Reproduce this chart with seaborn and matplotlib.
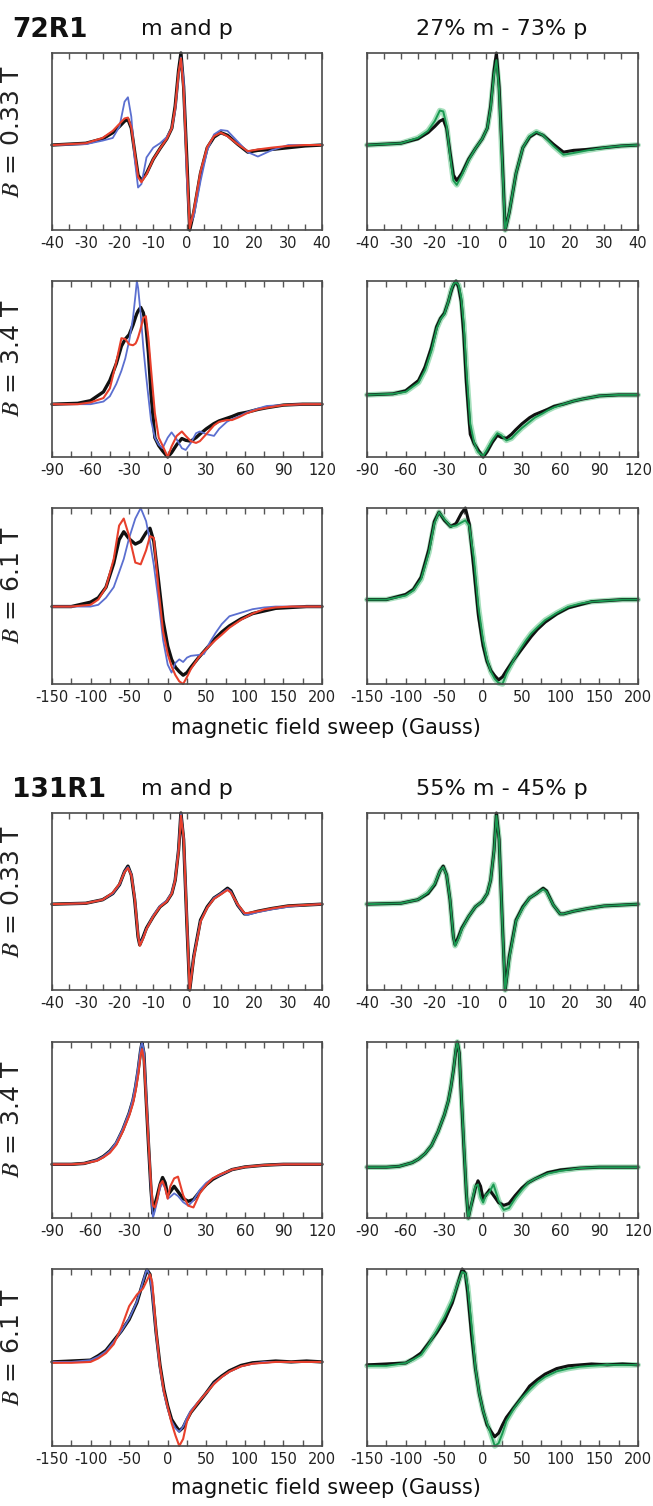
import matplotlib
matplotlib.use("Agg")
import matplotlib.pyplot as plt
import seaborn as sns
from matplotlib.ticker import MultipleLocator

# ---------------- data (normalised EPR derivative spectra) ----------------
sample_names = ["72R1", "131R1"]
left_title = "m and p"
right_titles = ["27% m - 73% p", "55% m - 45% p"]
field_labels = ["0.33", "3.4", "6.1"]
xlabel_text = "magnetic field sweep (Gauss)"

x_limits = [(-40, 40), (-90, 120), (-150, 200)]
x_major = [10, 30, 50]

# ---- 72R1, B = 0.33 T ----
x72_033 = [-40, -30, -25, -22, -20, -18.5, -17.5, -16.5, -15.5, -14.5, -13.5, -12, -10, -8, -6,
           -4.5, -3.5, -2.5, -1.8, -1, 0, 0.8, 2, 4, 6, 8, 10, 12, 15, 18, 21, 25, 30, 35, 40]
exp72_033 = [-0.04, -0.02, 0.03, 0.10, 0.17, 0.23, 0.25, 0.15, -0.12, -0.38, -0.44, -0.36, -0.20, -0.08, 0.03,
             0.15, 0.40, 0.80, 1.0, 0.62, -0.25, -1.0, -0.80, -0.36, -0.07, 0.05, 0.10, 0.07, -0.03, -0.12,
             -0.10, -0.09, -0.07, -0.05, -0.04]
red72_033 = [-0.04, -0.02, 0.04, 0.12, 0.20, 0.26, 0.27, 0.16, -0.12, -0.40, -0.46, -0.37, -0.20, -0.08, 0.03,
             0.15, 0.38, 0.78, 0.94, 0.58, -0.30, -0.98, -0.78, -0.34, -0.06, 0.06, 0.10, 0.06, -0.03, -0.11,
             -0.09, -0.07, -0.05, -0.04, -0.04]
blue72_033 = [-0.04, -0.03, 0.01, 0.04, 0.17, 0.45, 0.50, 0.28, -0.20, -0.52, -0.48, -0.18, -0.07, -0.02, 0.05,
              0.15, 0.35, 0.75, 0.95, 0.70, -0.45, -0.94, -0.85, -0.45, -0.10, 0.08, 0.13, 0.12, 0.0, -0.12,
              -0.17, -0.10, -0.04, -0.04, -0.04]
green72_033 = [-0.04, -0.02, 0.04, 0.12, 0.23, 0.35, 0.34, 0.18, -0.15, -0.44, -0.49, -0.38, -0.21, -0.08, 0.03,
               0.15, 0.38, 0.76, 0.92, 0.58, -0.30, -1.0, -0.80, -0.36, -0.07, 0.06, 0.11, 0.07, -0.05, -0.15,
               -0.13, -0.10, -0.07, -0.05, -0.04]

# ---- 72R1, B = 3.4 T ----
x72_34 = [-90, -70, -60, -50, -45, -40, -36, -33, -30, -27, -25, -24, -23, -21, -19, -17, -15, -13, -10, -7,
          -4, 0, 3, 7, 11, 14, 18, 22, 25, 30, 36, 40, 46, 50, 55, 62, 70, 77, 90, 105, 120]
exp72_34 = [-0.40, -0.39, -0.36, -0.26, -0.13, 0.06, 0.26, 0.34, 0.39, 0.50, 0.59, 0.63, 0.66, 0.70, 0.64,
            0.50, 0.18, -0.28, -0.78, -0.87, -0.93, -1.0, -0.95, -0.86, -0.79, -0.81, -0.82, -0.78, -0.74,
            -0.68, -0.62, -0.59, -0.56, -0.54, -0.51, -0.49, -0.46, -0.44, -0.41, -0.40, -0.40]
red72_34 = [-0.40, -0.40, -0.38, -0.33, -0.22, 0.08, 0.35, 0.34, 0.28, 0.27, 0.29, 0.32, 0.36, 0.46, 0.58,
            0.60, 0.35, 0.0, -0.50, -0.78, -0.87, -1.0, -0.88, -0.76, -0.71, -0.76, -0.82, -0.84, -0.82,
            -0.74, -0.64, -0.60, -0.58, -0.58, -0.55, -0.50, -0.46, -0.44, -0.41, -0.40, -0.40]
blue72_34 = [-0.40, -0.40, -0.40, -0.37, -0.31, -0.17, -0.02, 0.12, 0.32, 0.58, 0.85, 1.0, 0.92, 0.62, 0.25,
             -0.05, -0.32, -0.58, -0.78, -0.86, -0.90, -0.78, -0.72, -0.80, -0.90, -0.92, -0.84, -0.73, -0.71,
             -0.74, -0.76, -0.68, -0.60, -0.57, -0.54, -0.49, -0.45, -0.42, -0.41, -0.40, -0.40]
green72_34 = [-0.40, -0.39, -0.37, -0.28, -0.16, 0.03, 0.24, 0.33, 0.38, 0.50, 0.60, 0.64, 0.67, 0.69, 0.66,
              0.54, 0.28, -0.15, -0.68, -0.86, -0.95, -0.99, -0.93, -0.84, -0.77, -0.79, -0.84, -0.82, -0.78,
              -0.72, -0.66, -0.62, -0.58, -0.55, -0.52, -0.49, -0.46, -0.44, -0.41, -0.40, -0.40]

# ---- 72R1, B = 6.1 T ----
x72_61 = [-150, -125, -100, -90, -80, -70, -63, -57, -50, -42, -35, -28, -23, -18, -12, -6, 0, 5, 10, 15,
          20, 25, 30, 40, 47, 55, 62, 70, 80, 95, 110, 125, 140, 160, 180, 200]
exp72_61 = [-0.12, -0.12, -0.07, -0.02, 0.10, 0.37, 0.64, 0.73, 0.65, 0.59, 0.62, 0.72, 0.77, 0.62, 0.18,
            -0.28, -0.57, -0.72, -0.81, -0.86, -0.90, -0.87, -0.81, -0.70, -0.63, -0.55, -0.48, -0.41, -0.34,
            -0.26, -0.20, -0.17, -0.14, -0.13, -0.12, -0.12]
red72_61 = [-0.12, -0.12, -0.10, -0.04, 0.10, 0.42, 0.80, 0.88, 0.68, 0.38, 0.36, 0.52, 0.68, 0.66, 0.08,
            -0.40, -0.66, -0.80, -0.90, -0.97, -1.0, -0.92, -0.83, -0.70, -0.63, -0.56, -0.50, -0.44, -0.36,
            -0.27, -0.20, -0.15, -0.13, -0.12, -0.12, -0.12]
blue72_61 = [-0.12, -0.12, -0.12, -0.10, -0.02, 0.10, 0.27, 0.42, 0.66, 0.88, 1.0, 0.85, 0.62, 0.35, -0.05,
             -0.50, -0.78, -0.87, -0.76, -0.72, -0.75, -0.70, -0.68, -0.67, -0.66, -0.52, -0.42, -0.32, -0.23,
             -0.19, -0.15, -0.13, -0.12, -0.12, -0.12, -0.12]
green72_61 = [-0.12, -0.12, -0.08, -0.03, 0.08, 0.34, 0.62, 0.73, 0.66, 0.59, 0.60, 0.63, 0.65, 0.60, 0.28,
              -0.20, -0.52, -0.70, -0.82, -0.89, -0.93, -0.94, -0.84, -0.70, -0.61, -0.52, -0.45, -0.39, -0.32,
              -0.25, -0.19, -0.16, -0.14, -0.13, -0.12, -0.12]

# ---- 131R1, B = 0.33 T ----
x131_033 = [-40, -30, -25, -22, -20, -18.5, -17.5, -16.5, -15.5, -14.5, -14, -13, -12, -10, -8, -6, -4.5,
            -3.5, -2.5, -1.8, -1, 0, 0.8, 2, 4, 6, 8, 10, 12, 13, 15, 17, 18, 21, 25, 30, 35, 40]
exp131_033 = [-0.03, -0.02, 0.02, 0.09, 0.19, 0.34, 0.40, 0.30, 0.02, -0.40, -0.49, -0.40, -0.30, -0.17,
              -0.06, 0.00, 0.09, 0.24, 0.58, 1.0, 0.70, -0.28, -1.0, -0.62, -0.21, -0.06, 0.04, 0.09, 0.15,
              0.12, -0.04, -0.14, -0.14, -0.11, -0.08, -0.05, -0.04, -0.03]
red131_033 = [-0.03, -0.02, 0.02, 0.10, 0.20, 0.33, 0.38, 0.30, 0.04, -0.38, -0.50, -0.42, -0.31, -0.17,
              -0.06, 0.00, 0.09, 0.24, 0.56, 0.97, 0.72, -0.25, -1.0, -0.64, -0.23, -0.07, 0.03, 0.08, 0.13,
              0.10, -0.03, -0.13, -0.13, -0.11, -0.08, -0.05, -0.04, -0.03]
blue131_033 = [-0.03, -0.02, 0.02, 0.09, 0.19, 0.34, 0.39, 0.31, 0.04, -0.39, -0.48, -0.41, -0.31, -0.16,
               -0.05, 0.01, 0.10, 0.25, 0.60, 0.99, 0.72, -0.26, -0.98, -0.62, -0.22, -0.07, 0.04, 0.09, 0.14,
               0.11, -0.04, -0.14, -0.15, -0.12, -0.09, -0.06, -0.04, -0.03]
green131_033 = [-0.03, -0.02, 0.02, 0.10, 0.20, 0.34, 0.39, 0.30, 0.03, -0.40, -0.50, -0.42, -0.31, -0.17,
                -0.06, 0.00, 0.09, 0.24, 0.57, 0.97, 0.70, -0.30, -1.0, -0.64, -0.22, -0.07, 0.04, 0.09, 0.14,
                0.11, -0.04, -0.14, -0.14, -0.11, -0.08, -0.05, -0.04, -0.03]

# ---- 131R1, B = 3.4 T ----
x131_34 = [-90, -75, -65, -55, -50, -45, -40, -35, -30, -27, -25, -23, -21, -20, -18.5, -17, -15, -13, -11.5,
           -10, -8, -6, -4, -2, 0, 2, 5, 8, 12, 16, 20, 25, 30, 35, 40, 50, 60, 75, 90, 105, 120]
exp131_34 = [-0.39, -0.39, -0.38, -0.34, -0.30, -0.24, -0.15, 0.00, 0.19, 0.34, 0.49, 0.68, 0.91, 0.99, 0.87,
             0.42, -0.15, -0.68, -0.95, -0.85, -0.74, -0.62, -0.54, -0.60, -0.74, -0.70, -0.64, -0.70, -0.78,
             -0.81, -0.79, -0.70, -0.62, -0.56, -0.52, -0.45, -0.42, -0.40, -0.39, -0.39, -0.39]
red131_34 = [-0.39, -0.39, -0.38, -0.35, -0.31, -0.26, -0.17, -0.02, 0.16, 0.30, 0.44, 0.62, 0.86, 0.92, 0.80,
             0.40, -0.12, -0.62, -0.86, -0.88, -0.78, -0.62, -0.58, -0.66, -0.78, -0.64, -0.55, -0.53, -0.74,
             -0.86, -0.88, -0.72, -0.62, -0.55, -0.51, -0.45, -0.42, -0.40, -0.39, -0.39, -0.39]
blue131_34 = [-0.39, -0.39, -0.38, -0.34, -0.30, -0.24, -0.14, 0.01, 0.20, 0.36, 0.52, 0.72, 0.94, 1.0, 0.90,
              0.50, -0.10, -0.70, -1.0, -0.92, -0.80, -0.66, -0.60, -0.66, -0.78, -0.76, -0.72, -0.75, -0.82,
              -0.86, -0.80, -0.68, -0.60, -0.55, -0.52, -0.45, -0.42, -0.40, -0.39, -0.39, -0.39]
green131_34 = [-0.39, -0.39, -0.38, -0.34, -0.30, -0.24, -0.15, 0.00, 0.19, 0.34, 0.49, 0.68, 0.92, 0.99, 0.86,
               0.45, -0.12, -0.66, -0.95, -0.86, -0.72, -0.60, -0.58, -0.72, -0.78, -0.70, -0.66, -0.58, -0.76,
               -0.86, -0.84, -0.73, -0.64, -0.56, -0.52, -0.46, -0.43, -0.40, -0.39, -0.39, -0.39]

# ---- 131R1, B = 6.1 T ----
x131_61 = [-150, -125, -100, -90, -80, -70, -60, -50, -40, -32, -27, -23, -20, -15, -10, -5, 0, 5, 10, 15,
           20, 25, 30, 40, 50, 60, 70, 80, 95, 110, 125, 140, 160, 180, 200]
exp131_61 = [-0.05, -0.04, -0.03, 0.02, 0.08, 0.19, 0.30, 0.43, 0.62, 0.85, 0.99, 0.94, 0.74, 0.28, -0.09,
             -0.36, -0.55, -0.70, -0.77, -0.83, -0.79, -0.70, -0.62, -0.51, -0.40, -0.28, -0.21, -0.15, -0.09,
             -0.06, -0.05, -0.04, -0.05, -0.04, -0.05]
red131_61 = [-0.06, -0.06, -0.05, -0.01, 0.05, 0.15, 0.34, 0.58, 0.71, 0.78, 0.87, 0.94, 0.85, 0.30, -0.10,
             -0.38, -0.56, -0.74, -0.88, -1.0, -0.92, -0.72, -0.62, -0.50, -0.40, -0.30, -0.22, -0.16, -0.10,
             -0.07, -0.06, -0.05, -0.05, -0.05, -0.05]
blue131_61 = [-0.05, -0.05, -0.03, 0.01, 0.07, 0.18, 0.30, 0.44, 0.63, 0.86, 1.0, 0.92, 0.72, 0.26, -0.12,
              -0.40, -0.58, -0.72, -0.80, -0.84, -0.78, -0.68, -0.60, -0.50, -0.40, -0.29, -0.22, -0.16, -0.10,
              -0.07, -0.05, -0.05, -0.05, -0.05, -0.05]
green131_61 = [-0.06, -0.06, -0.03, 0.01, 0.06, 0.18, 0.32, 0.47, 0.65, 0.85, 0.96, 0.94, 0.80, 0.38, -0.08,
               -0.36, -0.55, -0.68, -0.80, -0.93, -0.90, -0.79, -0.66, -0.52, -0.41, -0.32, -0.24, -0.18, -0.12,
               -0.09, -0.07, -0.06, -0.05, -0.05, -0.05]

# ---------------- assemble ----------------
rows = [
    (x72_033, exp72_033, red72_033, blue72_033, green72_033),
    (x72_34, exp72_34, red72_34, blue72_34, green72_34),
    (x72_61, exp72_61, red72_61, blue72_61, green72_61),
    (x131_033, exp131_033, red131_033, blue131_033, green131_033),
    (x131_34, exp131_34, red131_34, blue131_34, green131_34),
    (x131_61, exp131_61, red131_61, blue131_61, green131_61),
]

sns.set_theme(style="white")
plt.rcParams["font.family"] = ["DejaVu Sans"]
plt.rcParams["axes.unicode_minus"] = False
plt.rcParams["mathtext.fontset"] = "stix"

W, H = 653, 1506
fig = plt.figure(figsize=(W / 100, H / 100), dpi=100)

col_px = [(52, 322), (367, 638)]
row_px = [(53, 230), (281, 457), (508, 684), (813, 990), (1042, 1218), (1269, 1446)]

BLACK = "#111111"
RED = "#e8402c"
BLUE = "#5b6fd0"
GREEN = "#1a9a52"
GREEN_HALO = "#a6dfbc"


def rect(c, r):
    x0, x1 = col_px[c]
    y0, y1 = row_px[r]
    return [x0 / W, 1 - y1 / H, (x1 - x0) / W, (y1 - y0) / H]


def line(ax, x, y, color, lw, z):
    sns.lineplot(x=x, y=y, ax=ax, color=color, linewidth=lw, sort=False, estimator=None,
                 legend=False, zorder=z, clip_on=False, solid_joinstyle="round", solid_capstyle="round")


def style_axis(ax, f):
    ax.set_xlim(*x_limits[f])
    ax.xaxis.set_major_locator(MultipleLocator(x_major[f]))
    ax.xaxis.set_minor_locator(MultipleLocator(x_major[f] / 2))
    ax.tick_params(axis="x", which="both", direction="in", top=True, bottom=True, length=4, width=1.0,
                   color="#555555", labelsize=10.5, labelcolor="#222222", pad=4)
    ax.tick_params(axis="y", left=False, labelleft=False)
    ax.set_yticks([])
    ax.set_xlabel("")
    ax.set_ylabel("")
    for sp in ax.spines.values():
        sp.set_color("#4a4a4a")
        sp.set_linewidth(1.2)
        sp.set_zorder(5)


for r, (x, exp, red, blue, green) in enumerate(rows):
    f = r % 3
    # left column: experiment + two simulations
    axl = fig.add_axes(rect(0, r))
    line(axl, x, exp, BLACK, 2.4, 2)
    line(axl, x, blue, BLUE, 1.3, 3)
    line(axl, x, red, RED, 1.5, 4)
    style_axis(axl, f)
    axl.set_ylim(min(min(exp), min(red), min(blue)), max(max(exp), max(red), max(blue)))
    axl.set_ylabel(rf"$B$ = {field_labels[f]} T", fontsize=18, color="#222222")
    axl.yaxis.set_label_coords(-0.105, 0.56)

    # right column: experiment + mixture fit
    axr = fig.add_axes(rect(1, r))
    line(axr, x, green, GREEN_HALO, 4.0, 2)
    line(axr, x, exp, BLACK, 2.2, 3)
    line(axr, x, green, GREEN, 1.4, 4)
    style_axis(axr, f)
    axr.set_ylim(min(min(exp), min(green)), max(max(exp), max(green)))

# titles and axis labels
for s, off in enumerate([0, 760]):
    fig.text(12 / W, 1 - (37 + off) / H, sample_names[s], fontsize=19, fontweight="bold",
             ha="left", va="baseline", color="#111111")
    fig.text(187 / W, 1 - (35 + off) / H, left_title, fontsize=16, ha="center", va="baseline",
             color="#111111")
    fig.text(502 / W, 1 - (35 + off) / H, right_titles[s], fontsize=16, ha="center", va="baseline",
             color="#111111")
    fig.text(326 / W, 1 - (728 + off) / H, xlabel_text, fontsize=15, ha="center", va="center",
             color="#111111")

fig.savefig("out.png", dpi=100)
